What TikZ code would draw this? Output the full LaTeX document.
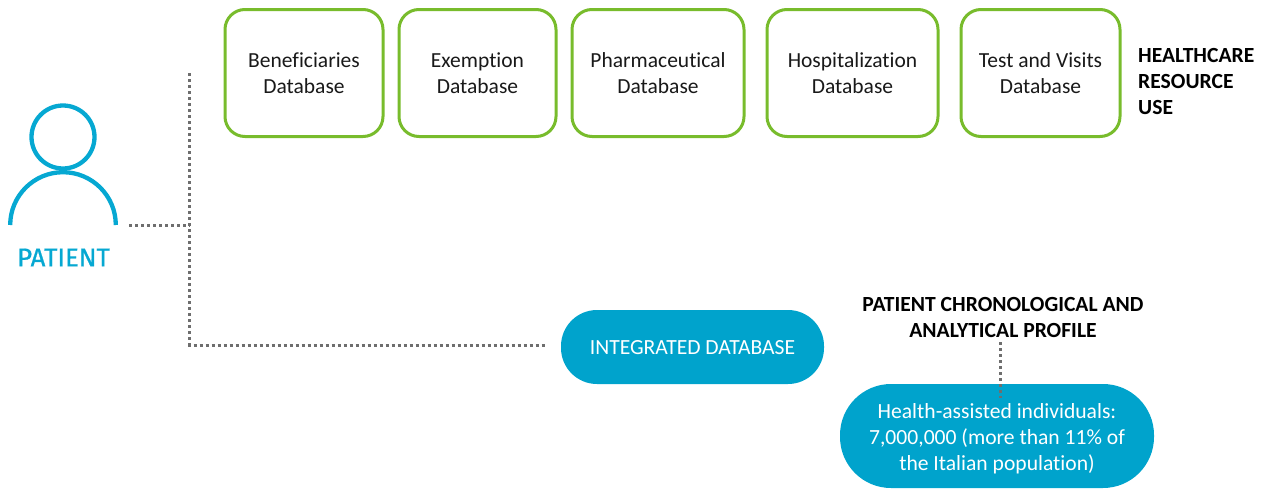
\documentclass[tikz,border=0pt]{standalone}
\usepackage{fontspec}
\setmainfont[Ligatures=NoCommon]{Carlito}
\newfontfamily\patientfont[FakeBold=0.8]{Fira Sans}
\definecolor{pblue}{HTML}{00A3CC}
\definecolor{iconblue}{HTML}{06A8D2}
\definecolor{pgreen}{HTML}{78BC2C}
\definecolor{dotgray}{HTML}{6E6E6E}
\tikzset{
  dbbox/.style={draw=pgreen,line width=3pt,rounded corners=20pt,fill=white,minimum height=127pt,inner sep=0pt,align=center,font=\fontsize{21.5pt}{26pt}\selectfont,text=black!90},
  pill/.style={fill=pblue,inner sep=0pt,align=center,text=white,font=\fontsize{21.6pt}{26pt}\selectfont},
  heading/.style={inner sep=0pt,font=\bfseries\fontsize{21.6pt}{26pt}\selectfont,text=black},
  dotline/.style={draw=dotgray,line width=3pt,dash pattern=on 3pt off 3pt},
  iconline/.style={draw=iconblue,line width=4.3pt}
}
\begin{document}
\begin{tikzpicture}[x=1pt,y=-1pt]
\useasboundingbox (0,0) rectangle (1266,488);
% connectors
\coordinate (spinetop) at (189.5,73);
\coordinate (spinemid) at (189.5,225.5);
\coordinate (spinebot) at (189.5,345);
\coordinate (patientout) at (129,225.5);
\coordinate (integratedin) at (545,345);
\coordinate (profileout) at (1000.5,342);
\coordinate (healthin) at (1000.5,398);
% boxes
\node[dbbox,minimum width=158pt] (ben) at (304,73) {Beneficiaries\\Database};
\node[dbbox,minimum width=157pt] (exe) at (477.5,73) {Exemption\\Database};
\node[dbbox,minimum width=172pt] (pha) at (658,73) {Pharmaceutical\\Database};
\node[dbbox,minimum width=171pt] (hos) at (852.5,73) {Hospitalization\\Database};
\node[dbbox,minimum width=159pt] (tes) at (1040.5,73) {Test and Visits\\Database};
\node[heading,align=left,anchor=north west] (hru) at (1138,48) {HEALTHCARE\\RESOURCE\\USE};
% patient icon
\draw[iconline] (63,137) circle (31.5pt);
\draw[iconline] (10.2,225) arc[start angle=180,end angle=0,radius=52.8pt];
\node[inner sep=0pt,text=iconblue,font=\patientfont\fontsize{25.8pt}{26pt}\selectfont] (patient) at (63.5,257.5) {PATIENT};
% pills
\node[pill,minimum width=263pt,minimum height=74pt,rounded corners=36pt] (int) at (692.5,347) {\rule{0pt}{16pt}INTEGRATED DATABASE};
\node[pill,minimum width=314pt,minimum height=104pt,rounded corners=51pt] (hea) at (997,436) {\rule{0pt}{19.5pt}Health-assisted individuals:\\7,000,000 (more than 11\% of\\the Italian population)};
\node[heading,align=center] (pro) at (1003,317) {PATIENT CHRONOLOGICAL AND\\ANALYTICAL PROFILE};
\draw[dotline] (spinetop) -- (spinebot) -- (integratedin);
\draw[dotline] (patientout) -- (spinemid);
\draw[dotline] (profileout) -- (healthin);
\end{tikzpicture}
\end{document}
